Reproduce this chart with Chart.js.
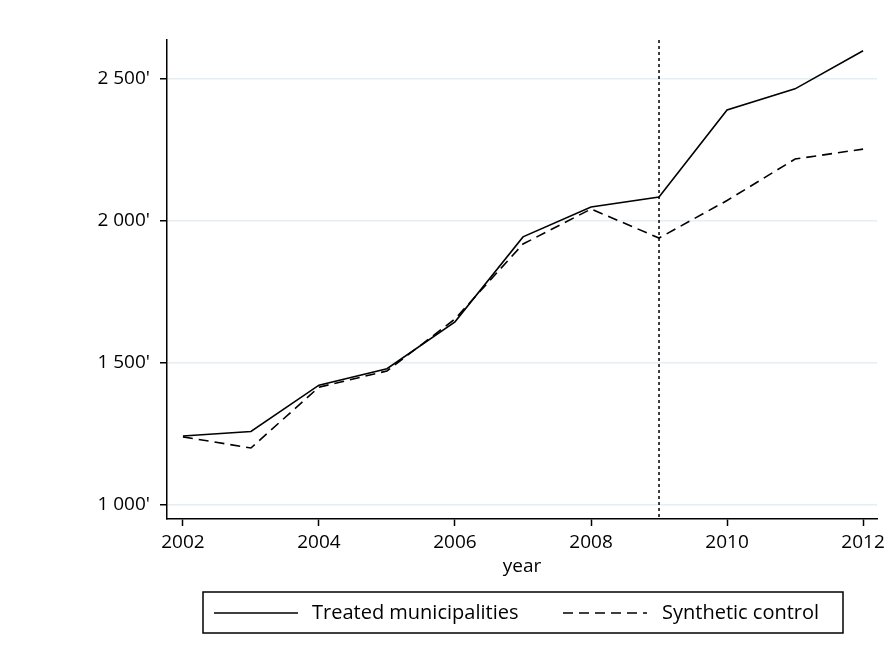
<!DOCTYPE html>
<html>
<head>
<meta charset="utf-8">
<script src="https://cdn.jsdelivr.net/npm/chart.js@4/dist/chart.umd.min.js"></script>
<style>
  html, body { margin: 0; padding: 0; background: #fff; }
  canvas { display: block; }
</style>
</head>
<body>
<canvas id="chart" width="890" height="656"></canvas>
<script>
// data
var years = [2002, 2003, 2004, 2005, 2006, 2007, 2008, 2009, 2010, 2011, 2012];
var treated = [1243, 1259, 1422, 1480, 1645, 1944, 2049, 2084, 2391, 2465, 2599];
var synthetic = [1240, 1201, 1415, 1472, 1655, 1919, 2042, 1940, 2072, 2218, 2253];
var xTicks = [2002, 2004, 2006, 2008, 2010, 2012];
var yTicks = [1000, 1500, 2000, 2500];
var yTickLabels = ["1 000'", "1 500'", "2 000'", "2 500'"];
var seriesNames = ['Treated municipalities', 'Synthetic control'];
var treatmentYear = 2009;

var FONT = '"Open Sans", "DejaVu Sans", sans-serif';
var DASH = [10, 6];

function toPoints(vals) {
    return years.map(function(y, i) { return { x: y, y: vals[i] }; });
}

var extras = {
    id: 'extras',
    afterDatasetsDraw: function(chart) {
        var ctx = chart.ctx;
        var area = chart.chartArea;
        var x = chart.scales.x.getPixelForValue(treatmentYear);
        ctx.save();
        ctx.strokeStyle = '#000';
        ctx.lineWidth = 1.5;
        ctx.setLineDash([3, 3]);
        ctx.beginPath();
        ctx.moveTo(x, area.top);
        ctx.lineTo(x, area.bottom);
        ctx.stroke();
        ctx.restore();
    },
    afterDraw: function(chart) {
        var ctx = chart.ctx;
        var area = chart.chartArea;
        ctx.save();
        ctx.fillStyle = '#000';
        ctx.strokeStyle = '#000';
        ctx.font = '19px ' + FONT;
        ctx.textAlign = 'center';
        ctx.textBaseline = 'middle';
        ctx.fillText('year', (area.left + area.right) / 2, 567);

        // legend box
        var bx = 203, by = 592, bw = 640, bh = 41;
        ctx.lineWidth = 1.5;
        ctx.strokeRect(bx, by, bw, bh);
        var cy = 613;
        ctx.font = '20px ' + FONT;
        ctx.textAlign = 'left';
        // solid
        ctx.beginPath();
        ctx.moveTo(214, cy);
        ctx.lineTo(298, cy);
        ctx.stroke();
        ctx.fillText(seriesNames[0], 312, cy);
        // dashed
        ctx.setLineDash(DASH);
        ctx.beginPath();
        ctx.moveTo(563, cy);
        ctx.lineTo(647, cy);
        ctx.stroke();
        ctx.setLineDash([]);
        ctx.fillText(seriesNames[1], 662, cy);
        ctx.restore();
    }
};

var ctx = document.getElementById('chart').getContext('2d');
var chart = new Chart(ctx, {
    type: 'line',
    data: {
        datasets: [{
            label: seriesNames[0],
            data: toPoints(treated),
            borderColor: '#000',
            borderWidth: 1.6,
            pointRadius: 0,
            tension: 0
        }, {
            label: seriesNames[1],
            data: toPoints(synthetic),
            borderColor: '#000',
            borderWidth: 1.6,
            borderDash: DASH,
            pointRadius: 0,
            tension: 0
        }]
    },
    options: {
        responsive: false,
        animation: false,
        devicePixelRatio: 1,
        layout: { padding: { top: 40, right: 10, left: 0, bottom: 0 } },
        plugins: {
            legend: { display: false },
            tooltip: { enabled: false }
        },
        scales: {
            x: {
                type: 'linear',
                min: 2001.766,
                max: 2012.205,
                afterBuildTicks: function(scale) {
                    scale.ticks = xTicks.map(function(v) { return { value: v }; });
                },
                afterFit: function(scale) { scale.height = 137; },
                ticks: {
                    color: '#000',
                    font: { family: FONT, size: 19 },
                    padding: 5,
                    maxRotation: 0,
                    callback: function(v) { return String(v); }
                },
                grid: {
                    drawOnChartArea: false,
                    drawTicks: true,
                    tickLength: 7,
                    tickColor: '#000',
                    tickWidth: 1.5
                },
                border: { display: true, color: '#000', width: 1.5 }
            },
            y: {
                min: 951,
                max: 2637,
                afterBuildTicks: function(scale) {
                    scale.ticks = yTicks.map(function(v) { return { value: v }; });
                },
                afterFit: function(scale) { scale.width = 167; },
                ticks: {
                    color: '#000',
                    font: { family: FONT, size: 19 },
                    padding: 10,
                    callback: function(v) {
                        var i = yTicks.indexOf(v);
                        return i >= 0 ? yTickLabels[i] : '';
                    }
                },
                grid: {
                    color: '#e6eef1',
                    lineWidth: 1.5,
                    tickLength: 7,
                    tickColor: '#000',
                    tickWidth: 1.5
                },
                border: { display: true, color: '#000', width: 1.5 }
            }
        }
    },
    plugins: [extras]
});
</script>
</body>
</html>
